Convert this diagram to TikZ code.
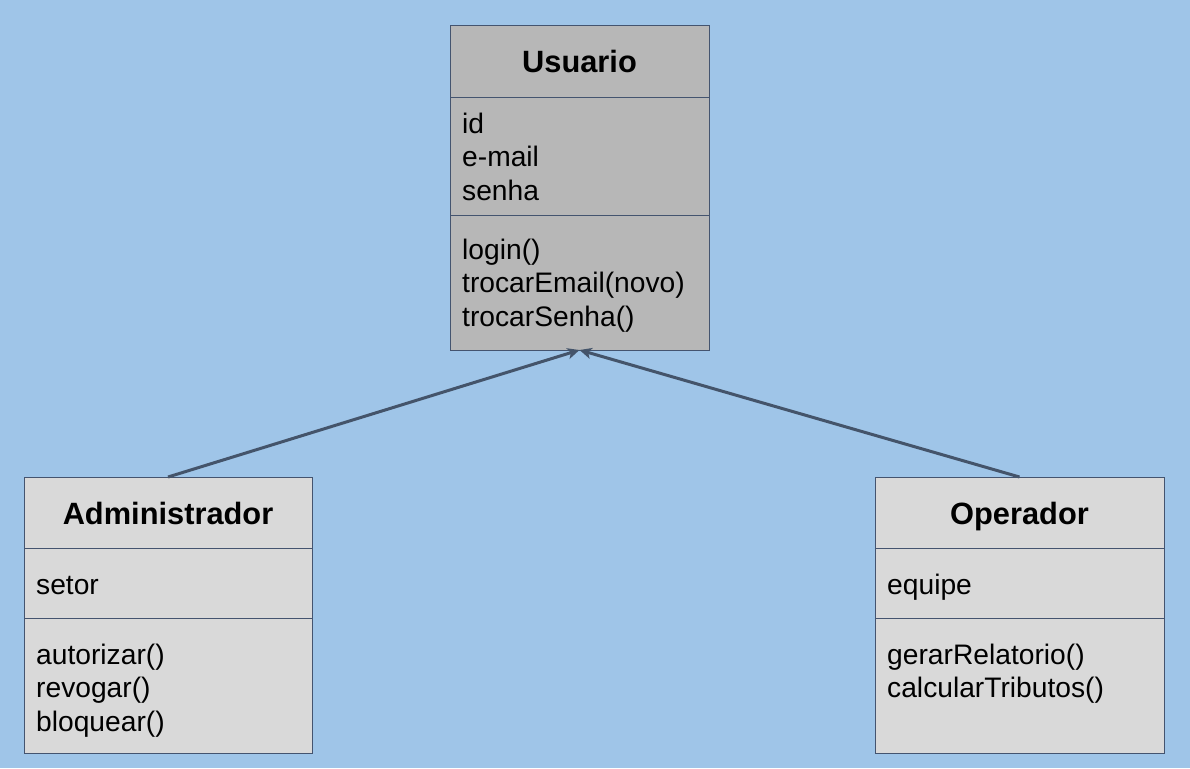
\documentclass[tikz,border=0pt]{standalone}
\usepackage{fontspec}
\setmainfont{Liberation Sans}
\usetikzlibrary{arrows.meta}
\definecolor{bg}{HTML}{9FC5E8}
\definecolor{usr}{HTML}{B7B7B7}
\definecolor{sub}{HTML}{D9D9D9}
\definecolor{edge}{HTML}{44546F}
\definecolor{conn}{HTML}{44546A}
\tikzset{
  cls/.style={draw=edge, line width=1pt, inner sep=0pt, outer sep=0pt},
  title/.style={font=\fontsize{30.8}{36}\selectfont\bfseries, anchor=base, inner sep=0pt},
  member/.style={font=\fontsize{28.2}{33}\selectfont, anchor=base west, inner sep=0pt},
  divider/.style={draw=edge, line width=1pt},
  inherit/.style={draw=conn, line width=3pt, -{Stealth[length=12pt,width=11pt,inset=3pt]}}
}
\begin{document}
\begin{tikzpicture}[x=1pt,y=-1pt]
\fill[bg] (0,0) rectangle (1190,768);
\useasboundingbox (0,0) rectangle (1190,768);
% Usuario
\node[cls, fill=usr, minimum width=259pt, minimum height=324pt] (u) at (579.5,188) {};
\draw[divider] (450,97) -- (709,97);
\draw[divider] (450,215) -- (709,215);
\node[title] (ut) at (579.5,73) {Usuario};
\node[member] (u1) at (462,133) {id};
\node[member] (u2) at (462,166.5) {e-mail};
\node[member] (u3) at (462,200) {senha};
\node[member] (u4) at (462,259) {login()};
\node[member] (u5) at (462,292.5) {trocarEmail(novo)};
\node[member] (u6) at (462,326) {trocarSenha()};
% Administrador
\node[cls, fill=sub, minimum width=288pt, minimum height=276pt] (a) at (168,615) {};
\draw[divider] (24,548) -- (312,548);
\draw[divider] (24,618) -- (312,618);
\node[title] (at) at (168,524) {Administrador};
\node[member] (a1) at (36,594) {setor};
\node[member] (a2) at (36,664) {autorizar()};
\node[member] (a3) at (36,697.5) {revogar()};
\node[member] (a4) at (36,731) {bloquear()};
% Operador
\node[cls, fill=sub, minimum width=289pt, minimum height=276pt] (o) at (1019.5,615) {};
\draw[divider] (875,548) -- (1164,548);
\draw[divider] (875,618) -- (1164,618);
\node[title] (ot) at (1019.5,524) {Operador};
\node[member] (o1) at (887,594) {equipe};
\node[member] (o2) at (887,664) {gerarRelatorio()};
\node[member] (o3) at (887,697.5) {calcularTributos()};
% inheritance
\draw[inherit] (a.north) -- (u.south);
\draw[inherit] (o.north) -- (u.south);
\end{tikzpicture}
\end{document}
